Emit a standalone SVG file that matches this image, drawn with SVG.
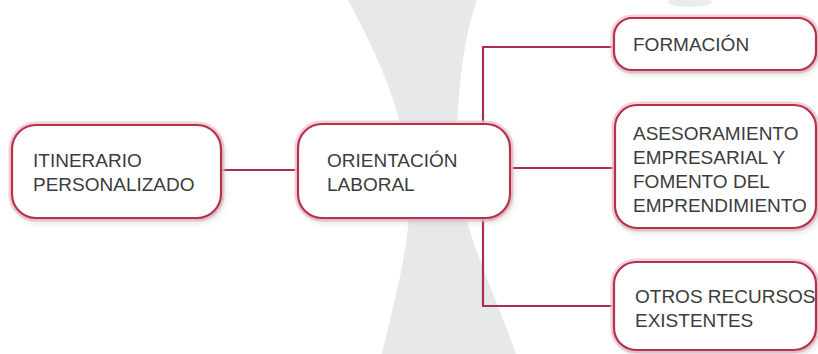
<svg xmlns="http://www.w3.org/2000/svg" width="818" height="354" viewBox="0 0 818 354">
<defs>
<style>
.bg{fill:#e6e8ea}
.glow{fill:none;stroke:#f4c8d2;stroke-width:7;opacity:.8}
.box{fill:#ffffff;stroke:#b5304e;stroke-width:2.2}
.conn{fill:none;stroke:#a8304c;stroke-width:2.2}
.t{font-family:"Liberation Sans",Arial,sans-serif;font-size:19px;fill:#3c3c3c}
</style>
<filter id="sh" x="-10%" y="-10%" width="125%" height="130%">
<feGaussianBlur in="SourceAlpha" stdDeviation="3"/>
<feOffset dx="2" dy="3" result="b"/>
<feFlood flood-color="#9a8a8e" flood-opacity="0.35"/>
<feComposite in2="b" operator="in"/>
<feMerge><feMergeNode/><feMergeNode in="SourceGraphic"/></feMerge>
</filter>
</defs>
<rect width="818" height="354" fill="#ffffff"/>
<g id="background">
<path class="bg" d="M348,0 L477,0 C462,40 455,110 458,170 C462,230 490,280 516,354 L382,354 C394,300 410,250 410,190 C408,120 380,60 348,0 Z"/>
<ellipse cx="690" cy="2" rx="22" ry="5" fill="#eaecee"/>
</g>
<g id="connectors">
<path class="conn" d="M221,170 L298,170"/>
<path class="conn" d="M510,168 L615,168"/>
<path class="conn" d="M614,47 L483,47 L483,306 L614,306"/>
</g>
<g id="node-itinerario">
<rect class="glow" x="12" y="125" width="209" height="93" rx="24"/>
<rect class="box" filter="url(#sh)" x="12" y="125" width="209" height="93" rx="24"/>
<text class="t" x="33" y="167">ITINERARIO</text>
<text class="t" x="33" y="191">PERSONALIZADO</text>
</g>
<g id="node-orientacion">
<rect class="glow" x="298" y="124" width="212" height="94" rx="24"/>
<rect class="box" filter="url(#sh)" x="298" y="124" width="212" height="94" rx="24"/>
<text class="t" x="327" y="167">ORIENTACIÓN</text>
<text class="t" x="327" y="191">LABORAL</text>
</g>
<g id="node-formacion">
<rect class="glow" x="614" y="18" width="202" height="52" rx="18"/>
<rect class="box" filter="url(#sh)" x="614" y="18" width="202" height="52" rx="18"/>
<text class="t" x="633" y="51">FORMACIÓN</text>
</g>
<g id="node-asesoramiento">
<rect class="glow" x="615" y="105" width="201" height="123" rx="22"/>
<rect class="box" filter="url(#sh)" x="615" y="105" width="201" height="123" rx="22"/>
<text class="t" x="633" y="140">ASESORAMIENTO</text>
<text class="t" x="633" y="164">EMPRESARIAL Y</text>
<text class="t" x="633" y="188">FOMENTO DEL</text>
<text class="t" x="633" y="212">EMPRENDIMIENTO</text>
</g>
<g id="node-otros">
<rect class="glow" x="614" y="262" width="202" height="88" rx="22"/>
<rect class="box" filter="url(#sh)" x="614" y="262" width="202" height="88" rx="22"/>
<text class="t" x="635" y="303">OTROS RECURSOS</text>
<text class="t" x="635" y="327">EXISTENTES</text>
</g>
</svg>
